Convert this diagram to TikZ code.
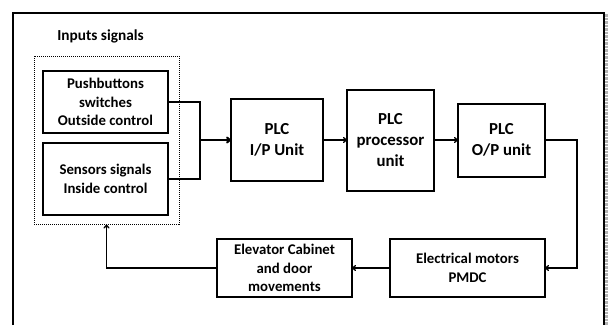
\documentclass[tikz,border=0pt]{standalone}
\usepackage{fontspec}
\setmainfont{Carlito}
\usetikzlibrary{arrows.meta}
\tikzset{
  blk/.style={draw, line width=2pt, inner sep=0pt, outer sep=0pt, align=center,
    font=\bfseries\fontsize{14.8}{18.5}\selectfont},
  plc/.style={blk, font=\bfseries\fontsize{16.8}{21}\selectfont},
  conn/.style={line width=1.3pt, -{To[length=4pt,width=6pt]}},
  plain/.style={line width=1.3pt},
}
\begin{document}
\begin{tikzpicture}[x=1pt,y=-1pt]
\useasboundingbox (0,0) rectangle (608,325);
% frame
\draw[line width=2pt] (13,325) -- (13,12.5) -- (603.5,12.5) -- (603.5,325);
\draw[gray!60, line width=2.5pt, densely dotted] (606.5,14) -- (606.5,325);
% title
\node[font=\bfseries\fontsize{15.3}{18}\selectfont] (title) at (100.5,36) {Inputs signals};
% input group
\node[draw, densely dotted, line width=1pt, minimum width=145pt, minimum height=168pt, inner sep=0pt] (inbox) at (106.5,140) {};
\node[blk, minimum width=125pt, minimum height=62pt] (push) at (105.5,102) {Pushbuttons\\switches\\Outside control};
\node[blk, minimum width=125pt, minimum height=72pt] (sens) at (105.5,179) {Sensors signals\\Inside control};
% PLC
\node[plc, minimum width=92pt, minimum height=82pt] (ip) at (277,140) {PLC\\I/P Unit};
\node[plc, minimum width=87pt, minimum height=101pt] (proc) at (390.5,140) {PLC\\processor\\unit};
\node[plc, minimum width=87pt, minimum height=73pt] (op) at (501.5,140) {PLC\\O/P unit};
% bottom row
\node[blk, minimum width=155pt, minimum height=58pt] (motors) at (467.5,268) {Electrical motors\\PMDC};
\node[blk, minimum width=135pt, minimum height=58pt] (cab) at (284.5,268) {Elevator Cabinet\\and door\\movements};
% connectors
\coordinate (j) at (200,140);
\coordinate (c1) at (577,268);
\draw[plain] (push.east) -| (j);
\draw[plain] (sens.east) -| (j);
\draw[line width=2pt, -{To[length=5pt,width=7pt]}] (j) -- (ip.west);
\draw[conn] (ip.east) -- (proc.west);
\draw[conn] (proc.east) -- (op.west);
\draw[conn] (op.east) -| (c1) -- (motors.east);
\draw[conn] (motors.west) -- (cab.east);
\draw[conn] (cab.west) -| (inbox.south);
\end{tikzpicture}
\end{document}
